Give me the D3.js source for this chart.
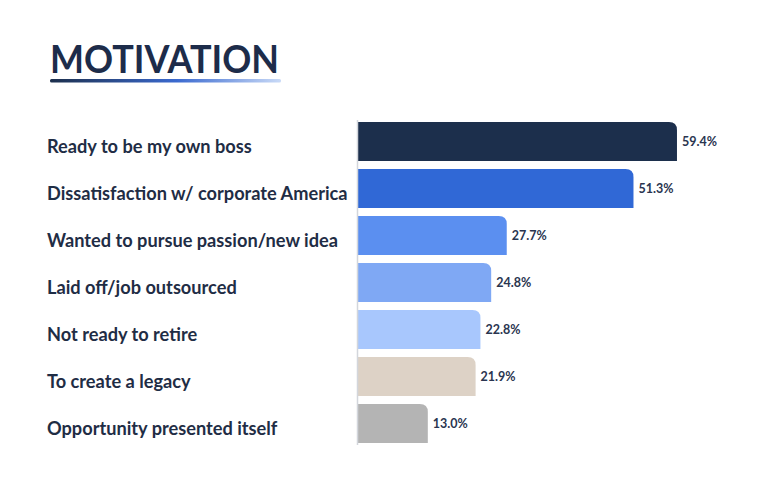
<!DOCTYPE html>
<html>
<head>
<meta charset="utf-8">
<script src="https://cdn.jsdelivr.net/npm/d3@7"></script>
<style>
  html, body { margin: 0; padding: 0; background: #fff; }
  svg { display: block; }
</style>
</head>
<body>
<div id="chart"></div>
<script>
const categories = [
  'Ready to be my own boss',
  'Dissatisfaction w/ corporate America',
  'Wanted to pursue passion/new idea',
  'Laid off/job outsourced',
  'Not ready to retire',
  'To create a legacy',
  'Opportunity presented itself'
]
const values = [59.4, 51.3, 27.7, 24.8, 22.8, 21.9, 13.0]
const colors = ['#1c2f4c', '#3068d6', '#5b8ff0', '#7fa8f4', '#a8c7fd', '#ddd2c6', '#b4b4b4']
const title = 'MOTIVATION'

const w = 768, h = 493
const x0 = 358
const radius = 8
const ink = '#1f2d45'

const svg = d3.select('#chart').append('svg')
  .attr('width', w)
  .attr('height', h)

// title + gradient underline
const defs = svg.append('defs')
const grad = defs.append('linearGradient').attr('id', 'titleLine')
  .attr('x1', '0%').attr('x2', '100%')
grad.append('stop').attr('offset', '0%').attr('stop-color', '#1c2f4c')
grad.append('stop').attr('offset', '55%').attr('stop-color', '#3b6ad0')
grad.append('stop').attr('offset', '100%').attr('stop-color', '#c9daf7')

svg.append('text')
  .attr('x', 50)
  .attr('y', 73)
  .text(title)
  .attr('font-family', 'Lato, sans-serif')
  .attr('font-weight', 'bold')
  .attr('font-size', '39px')
  .attr('textLength', 229)
  .attr('lengthAdjust', 'spacingAndGlyphs')
  .style('fill', '#1d2c4a')

svg.append('rect')
  .attr('x', 50).attr('y', 79)
  .attr('width', 231).attr('height', 3.5)
  .attr('rx', 1.5)
  .attr('fill', 'url(#titleLine)')

const x = d3.scaleLinear().domain([0, 100]).range([x0, x0 + 537])
const y = d3.scaleBand().domain(categories).range([122, 443]).paddingInner(0.17)

// bar with only the top-right corner rounded
function barPath (v, c) {
  let left = x(0), right = x(v), top = y(c), bottom = y(c) + y.bandwidth()
  let r = Math.min(radius, right - left)
  return `M${left},${top}H${right - r}Q${right},${top} ${right},${top + r}V${bottom}H${left}Z`
}

const data = categories.map((c, i) => ({ name: c, value: values[i], color: colors[i] }))

svg.append('g').selectAll('path')
  .data(data)
  .enter()
  .append('path')
  .attr('d', d => barPath(d.value, d.name))
  .attr('fill', d => d.color)

// baseline
svg.append('line')
  .attr('x1', x0 - 0.5).attr('x2', x0 - 0.5)
  .attr('y1', 120).attr('y2', 445)
  .attr('stroke', '#d3d6dc')
  .attr('stroke-width', 1.5)

// category labels
svg.append('g').selectAll('text')
  .data(data)
  .enter()
  .append('text')
  .attr('x', 47)
  .attr('y', d => y(d.name) + y.bandwidth() / 2 + 11.5)
  .text(d => d.name)
  .attr('font-family', 'Lato, sans-serif')
  .attr('font-weight', 'bold')
  .attr('font-size', '18.2px')
  .style('fill', ink)

// value labels
svg.append('g').selectAll('text')
  .data(data)
  .enter()
  .append('text')
  .attr('x', d => x(d.value) + 5)
  .attr('y', d => y(d.name) + y.bandwidth() / 2 + 4.5)
  .text(d => d.value.toFixed(1) + '%')
  .attr('font-family', 'Lato, sans-serif')
  .attr('font-size', '12.5px')
  .attr('font-weight', 'bold')
  .style('fill', '#2a3550')
</script>
</body>
</html>
